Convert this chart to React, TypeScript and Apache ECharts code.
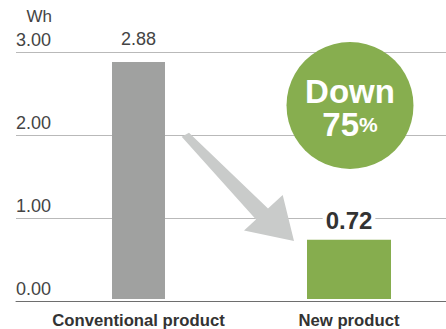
import React, { useEffect, useRef } from "react";
import * as echarts from "echarts";

const categories: string[] = ["Conventional product", "New product"];
const values: number[] = [2.88, 0.72];
const yMin = 0;
const yMax = 3;
const yInterval = 1;
const unitLabel = "Wh";
const badgeWord = "Down";
const badgePercent = "75";

const FONT = "'Liberation Sans', Arial, Helvetica, sans-serif";

export default function App() {
  const ref = useRef<HTMLDivElement>(null);
  useEffect(() => {
    if (!ref.current) return;
    const chart = echarts.init(ref.current, undefined, { renderer: "svg" });
    const catLabel = {
      margin: 13,
      fontSize: 16.7,
      fontWeight: "bold",
      color: "#333333",
      fontFamily: FONT,
      interval: 0,
    };
    const option: any = {
      animation: false,
      backgroundColor: "#ffffff",
      textStyle: { fontFamily: FONT },
      grid: [
        { left: 16, right: 0, top: 52, bottom: 28 },
        { left: 32.5, width: 212, top: 52, bottom: 28 },
        { left: 259, width: 180, top: 52, bottom: 28 },
      ],
      xAxis: [
        {
          gridIndex: 0,
          type: "category",
          data: categories,
          axisLabel: { show: false },
          axisTick: { show: false },
          axisLine: { show: true, lineStyle: { color: "#6e6e6e", width: 1 } },
        },
        {
          gridIndex: 1,
          type: "category",
          data: [categories[0]],
          axisLine: { show: false },
          axisTick: { show: false },
          axisLabel: catLabel,
        },
        {
          gridIndex: 2,
          type: "category",
          data: [categories[1]],
          axisLine: { show: false },
          axisTick: { show: false },
          axisLabel: catLabel,
        },
      ],
      yAxis: [
        {
          gridIndex: 0,
          type: "value",
          min: yMin,
          max: yMax,
          interval: yInterval,
          axisLine: { show: false },
          axisTick: { show: false },
          splitLine: { show: true, lineStyle: { color: "#b9b9b9", width: 1 } },
          axisLabel: {
            inside: true,
            margin: 0,
            verticalAlign: "bottom",
            padding: [0, 0, 3, 0],
            fontSize: 18,
            color: "#444444",
            fontFamily: FONT,
            formatter: (v: number) => v.toFixed(2),
          },
        },
        { gridIndex: 1, type: "value", min: yMin, max: yMax, interval: yInterval, show: false, splitLine: { show: false } },
        { gridIndex: 2, type: "value", min: yMin, max: yMax, interval: yInterval, show: false, splitLine: { show: false } },
      ],
      series: [
        {
          type: "bar",
          xAxisIndex: 1,
          yAxisIndex: 1,
          data: [values[0]],
          barWidth: 53,
          itemStyle: { color: "#a0a1a0" },
          label: {
            show: true,
            position: "top",
            distance: 14,
            fontSize: 18,
            color: "#444444",
            fontFamily: FONT,
            formatter: (p: any) => Number(p.value).toFixed(2),
          },
        },
        {
          type: "bar",
          xAxisIndex: 2,
          yAxisIndex: 2,
          data: [values[1]],
          barWidth: 84,
          itemStyle: { color: "#86ad4e" },
          label: {
            show: true,
            position: "top",
            distance: 7,
            fontSize: 24,
            fontWeight: "bold",
            color: "#333333",
            fontFamily: FONT,
            backgroundColor: "#ffffff",
            padding: [0, 3, 0, 3],
            formatter: (p: any) => Number(p.value).toFixed(2),
          },
        },
      ],
      graphic: [
        {
          type: "text",
          x: 52,
          y: 25,
          style: {
            text: unitLabel,
            fontSize: 17,
            fontFamily: FONT,
            fill: "#444444",
            align: "right",
            verticalAlign: "bottom",
          },
        },
        {
          type: "polygon",
          z: 50,
          shape: {
            points: [
              [181.7, 136.7],
              [189, 132.7],
              [268, 208.5],
              [282.7, 195],
              [294, 241],
              [244, 230.5],
              [256, 219.5],
            ],
          },
          style: { fill: "#c9cbca" },
        },
        {
          type: "circle",
          z: 50,
          shape: { cx: 350, cy: 105.5, r: 63.5 },
          style: { fill: "#87ae4f" },
        },
        {
          type: "text",
          z: 51,
          x: 350,
          y: 105,
          style: {
            text: badgeWord,
            fontSize: 33,
            lineHeight: 27,
            fontWeight: "bold",
            fontFamily: FONT,
            fill: "#ffffff",
            align: "center",
            verticalAlign: "bottom",
          },
        },
        {
          type: "text",
          z: 51,
          x: 350,
          y: 138,
          style: {
            text: "{a|" + badgePercent + "}{b|%}",
            fill: "#ffffff",
            align: "center",
            verticalAlign: "bottom",
            rich: {
              a: { fontSize: 33, lineHeight: 27, fontWeight: "bold", fontFamily: FONT, fill: "#ffffff" },
              b: { fontSize: 21, lineHeight: 27, fontWeight: "bold", fontFamily: FONT, fill: "#ffffff" },
            },
          },
        },
      ],
    };
    chart.setOption(option);
    return () => chart.dispose();
  }, []);
  return (
    <div
      ref={ref}
      style={{ position: "fixed", left: 0, top: 0, width: 446, height: 329, background: "#fff" }}
    />
  );
}
